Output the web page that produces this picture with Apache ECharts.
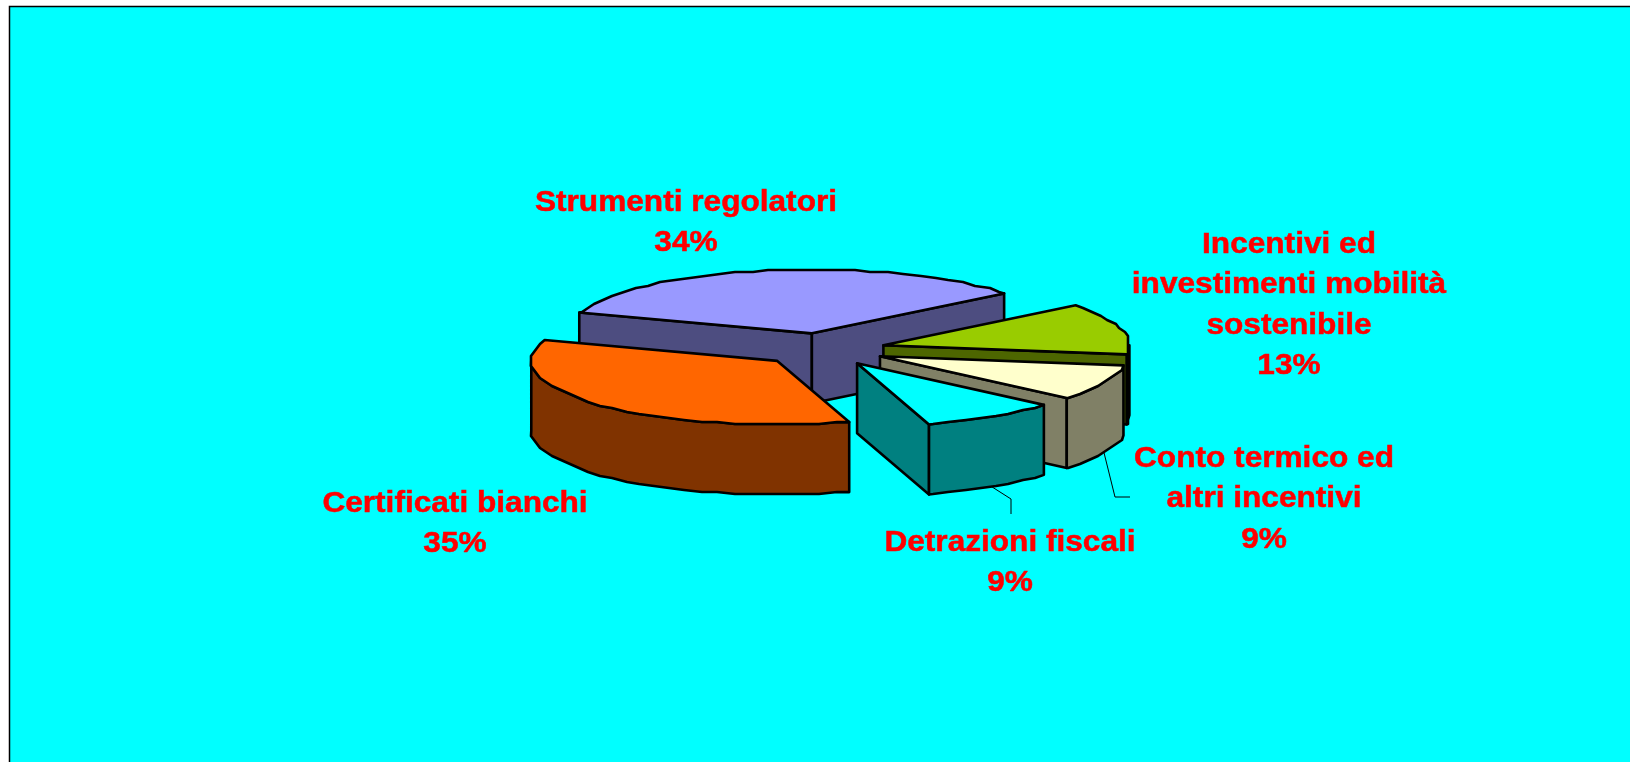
<!DOCTYPE html>
<html>
<head>
<meta charset="utf-8">
<style>
  html, body { margin: 0; padding: 0; background: #fff; }
  #chart { width: 1630px; height: 762px; }
</style>
<script src="https://cdn.jsdelivr.net/npm/echarts@6/dist/echarts.min.js"></script>
</head>
<body>
<div id="chart"></div>
<script>
// data
const categories = [
  "Strumenti regolatori",
  "Incentivi ed\ninvestimenti mobilità\nsostenibile",
  "Conto termico ed\naltri incentivi",
  "Detrazioni fiscali",
  "Certificati bianchi"
]
const values = [34, 13, 9, 9, 35]

// colours, top face and side wall
const topColors = ["#9999FF", "#99CC00", "#FFFFCC", "#00FFFF", "#FF6600"]
const sideColors = ["#4D4D80", "#4D6600", "#808066", "#008080", "#803300"]

// label centres, first line
const labelPos = [[686, 203], [1289, 245], [1264, 459], [1010, 543], [455, 504]]
// leader lines: elbow and end, only the two small slices have one
const leaders = [null, null, [[1115, 497], [1130, 497]], [[1011, 499], [1011, 514]], null]

// pie layout
const cx = 822.6
const cy = 349.5
const rx = 246
const ry = 64
const depth = 70
const explodeX = 63
const explodeY = 16.4
const startAngle = 161 // degrees, going clockwise
const arcStep = 4

const total = values.reduce((a, b) => a + b, 0)
const rad = (d) => (d * Math.PI) / 180

// the original arcs are a bit jagged, snap points to a coarse grid
// angles sit on a fixed grid so top face and wall share the same points
const arcPoints = (ox, oy, from, to) => {
  const at = (d) => [ox + rx * Math.cos(rad(d)), oy - ry * Math.sin(rad(d))]
  const pts = [at(from)]
  for (let d = Math.ceil(from / arcStep - 1) * arcStep; d > to; d -= arcStep) {
    const p = at(d)
    pts.push([Math.round(p[0] / 3) * 3, Math.round(p[1] / 2) * 2])
  }
  pts.push(at(to))
  return pts
}

const renderSlice = (params, api) => {
  const i = params.dataIndex
  const before = values.slice(0, i).reduce((a, b) => a + b, 0)
  const t1 = startAngle - (before / total) * 360
  const t2 = t1 - (api.value(0) / total) * 360
  const mid = rad((t1 + t2) / 2)
  const ox = cx + explodeX * Math.cos(mid)
  const oy = cy - explodeY * Math.sin(mid)
  const lineStyle = { stroke: "#000", lineWidth: 2.6, lineJoin: "round" }
  const children = []

  const radialWall = (t) => {
    const x = ox + rx * Math.cos(rad(t))
    const y = oy - ry * Math.sin(rad(t))
    children.push({
      type: "polygon",
      shape: { points: [[ox, oy], [x, y], [x, y + depth], [ox, oy + depth]] },
      style: { fill: sideColors[i], ...lineStyle }
    })
  }
  // only the walls facing the viewer
  if (Math.cos(rad(t1)) < 0) radialWall(t1)
  if (Math.cos(rad(t2)) > 0) radialWall(t2)

  // outer wall, front half of the ellipse only
  const a = Math.min(t1, 0)
  const b = Math.max(t2, -180)
  if (a > b) {
    const upper = arcPoints(ox, oy, a, b)
    const lower = upper.map((p) => [p[0], p[1] + depth]).reverse()
    children.push({
      type: "polygon",
      shape: { points: upper.concat(lower) },
      style: { fill: sideColors[i], ...lineStyle }
    })
  }

  // top face
  children.push({
    type: "polygon",
    shape: { points: [[ox, oy]].concat(arcPoints(ox, oy, t1, t2)) },
    style: { fill: topColors[i], ...lineStyle }
  })

  // leader line
  if (leaders[i]) {
    const sx = ox + rx * Math.cos(mid)
    const sy = oy - ry * Math.sin(mid) + depth
    children.push({
      type: "polyline",
      shape: { points: [[sx, sy]].concat(leaders[i]) },
      style: { fill: "none", stroke: "#000", lineWidth: 1 }
    })
  }

  // label, stretched a little since the original font runs wider
  children.push({
    type: "text",
    x: labelPos[i][0],
    y: labelPos[i][1] - 20,
    scaleX: 1.09,
    style: {
      text: categories[i] + "\n" + api.value(0) + "%",
      fill: "#FF0000",
      stroke: "#FF0000",
      lineWidth: 0.5,
      font: 'bold 29px "Liberation Sans", Arial, sans-serif',
      lineHeight: 40.3,
      align: "center",
      verticalAlign: "top"
    }
  })

  return { type: "group", children: children }
}

const chart = echarts.init(document.getElementById("chart"), null, { renderer: "canvas" })

chart.setOption({
  animation: false,
  backgroundColor: "#fff",
  graphic: [
    {
      type: "rect",
      z: -1,
      shape: { x: 9.5, y: 6.5, width: 1640, height: 780 },
      style: { fill: "#00FFFF", stroke: "#000", lineWidth: 1.5 }
    }
  ],
  series: [
    {
      type: "custom",
      coordinateSystem: "none",
      silent: true,
      renderItem: renderSlice,
      data: values.map((v) => [v])
    }
  ]
})
</script>
</body>
</html>
